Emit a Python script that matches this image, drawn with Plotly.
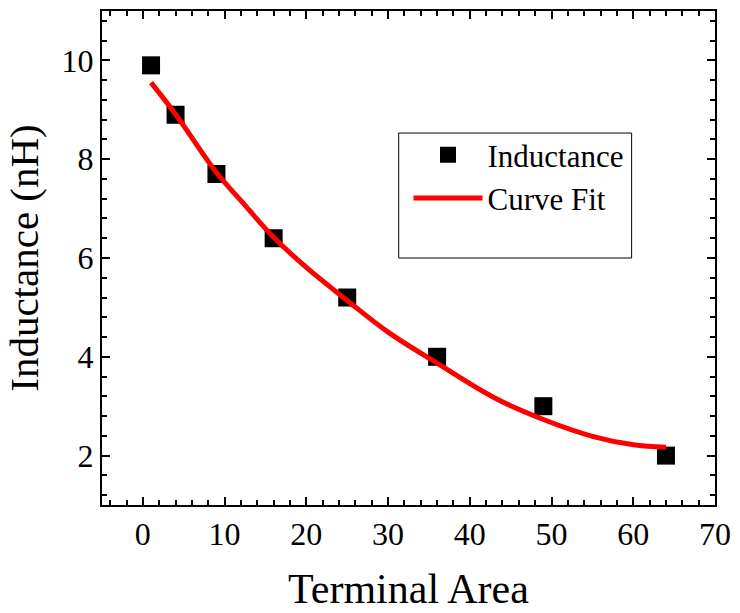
import plotly.graph_objects as go

# Measured data
terminal_area = [1, 4, 9, 16, 25, 36, 49, 64]
inductance = [9.9, 8.9, 7.7, 6.4, 5.2, 4.0, 3.0, 2.0]

# Curve fit
fit_x = [1, 4, 9, 12, 16, 20, 25, 30, 36, 43, 49, 55, 60, 64]
fit_y = [9.55, 8.91, 7.73, 7.16, 6.42, 5.81, 5.14, 4.50, 3.87, 3.17, 2.73, 2.39, 2.22, 2.17]

FONT = "Liberation Serif, Times New Roman, serif"

fig = go.Figure()
fig.add_trace(go.Scatter(
    x=terminal_area, y=inductance, mode="markers", name="Inductance",
    marker=dict(symbol="square", size=18, color="black", line=dict(width=0)),
))
fig.add_trace(go.Scatter(
    x=fit_x, y=fit_y, mode="lines", name="Curve Fit",
    line=dict(color="#ff0000", width=5, shape="spline", smoothing=1.0),
))

axis_common = dict(
    showline=True, linecolor="black", linewidth=2, mirror="ticks",
    ticks="inside", ticklen=8, tickwidth=2, tickcolor="black",
    showgrid=False, zeroline=False,
    tickfont=dict(family=FONT, size=32, color="black"),
)

fig.update_xaxes(
    range=[-5, 70], dtick=10, tick0=0,
    minor=dict(ticks="inside", dtick=2, ticklen=5, tickwidth=2, tickcolor="black", showgrid=False),
    title=dict(text="Terminal Area", font=dict(family=FONT, size=42, color="black"), standoff=22),
    **axis_common,
)
fig.update_yaxes(
    range=[1, 11], dtick=2, tick0=0,
    minor=dict(ticks="inside", dtick=0.4, ticklen=5, tickwidth=2, tickcolor="black", showgrid=False),
    title=dict(text="Inductance (nH)", font=dict(family=FONT, size=41, color="black"), standoff=10),
    **axis_common,
)

fig.update_layout(
    width=740, height=613,
    margin=dict(l=102, r=20, t=9, b=106),
    paper_bgcolor="white", plot_bgcolor="white",
    showlegend=True,
    legend=dict(
        x=0.500, y=0.763, xanchor="left", yanchor="top",
        font=dict(family=FONT, size=31, color="black"),
        bgcolor="rgba(0,0,0,0)", borderwidth=0,
        itemwidth=69, tracegroupgap=0,
    ),
    shapes=[dict(
        type="rect", xref="paper", yref="paper",
        x0=0.484, x1=0.864, y0=0.5, y1=0.753,
        line=dict(color="black", width=1), fillcolor="rgba(0,0,0,0)",
    )],
)

fig.write_html("out.html")
